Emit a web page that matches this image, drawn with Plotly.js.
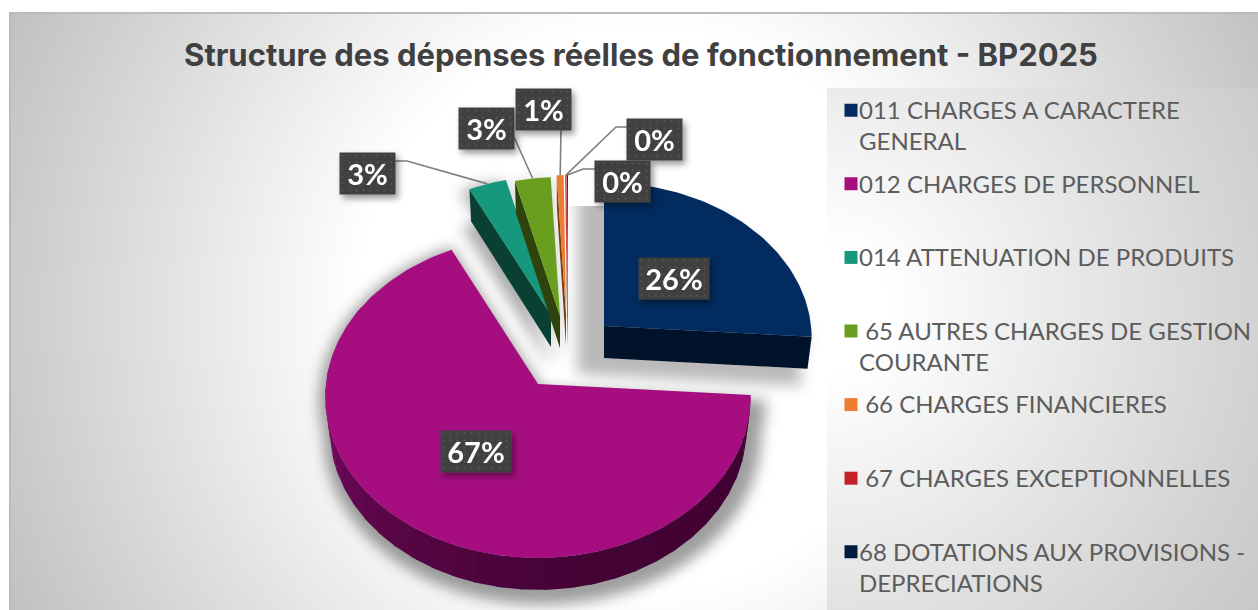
<!DOCTYPE html>
<html><head><meta charset="utf-8">
<script src="https://cdn.plot.ly/plotly-3.0.1.min.js"></script>
<style>
html,body{margin:0;padding:0;background:#fff;overflow:hidden}
#frame{position:absolute;left:9px;top:12px;width:1249px;height:598px;border-top:2px solid #bbb;border-left:2px solid #bbb;box-sizing:border-box;
 background:radial-gradient(circle at 629px 296px,#fff 0px,#fff 280px,#c0c0c0 700px)}
#panel{position:absolute;left:827px;top:88px;width:431px;height:522px;
 background:radial-gradient(circle at 0px 222px,#fff 60px,#d2d2d2 430px,#c8c8c8 520px)}
#chart{position:absolute;left:0;top:0;width:1258px;height:610px}
</style></head>
<body>
<div id="frame"></div><div id="panel"></div><div id="chart"></div>
<script>
const categories=["011 CHARGES A CARACTERE<br>GENERAL","012 CHARGES DE PERSONNEL<br> ","014 ATTENUATION DE PRODUITS<br> ","\u00a065 AUTRES CHARGES DE GESTION<br>COURANTE","\u00a066 CHARGES FINANCIERES<br> ","\u00a067 CHARGES EXCEPTIONNELLES<br> ","68 DOTATIONS AUX PROVISIONS -<br>DEPRECIATIONS"];
const values=[26.1,66.7,3.3,3.1,0.6,0.12,0.08];
const topColors=["#022c60","#a60e80","#16987c","#6a9e1f","#ed7d31","#c52026","#011c3e"];
const sideColors=["#00132b","#42032f","#0a4033","#2f430c","#7a4010","#6a1010","#000f20"];
// explode layout: where each slice's tip lands, and its ellipse radii
const apexX=[604,538,551,560,566,567.5,568];
const apexY=[326,384,315,316,314,314,314];
const radX=[207,212,200,200,200,200,200];
const radY=[155,160,150,150,150,150,150];
const persp=0.08, depth=32, shrink=0.98;
// label layout
const boxX=[674,476,367,486,543,654,622];
const boxY=[278.5,451,173,128,109.5,139,181];
const leadFrom=[null,null,[[395,161],[407,161]],[[514,137]],[[561,130]],[[627,127],[616,127]],[[595,169],[583,169]]];
const dataLabels=[0,1,2,3,4,5,6];

const total=values.reduce((a,b)=>a+b,0);
let cum=0;
const slices=values.map((v,i)=>{const a0=cum/total*360;cum+=v;const a1=cum/total*360;return {i,a0,a1,mid:(a0+a1)/2};});
function pt(i,r,deg,low){
  const t=deg*Math.PI/180, w=1+persp*r*Math.cos(t), z=low?shrink:1;
  return [apexX[i]+radX[i]*z*r*Math.sin(t)/w, apexY[i]-radY[i]*r*Math.cos(t)/w+(low?depth:0)];
}
function arc(i,a0,a1,low){const n=Math.max(2,Math.ceil(Math.abs(a1-a0)/1.5));const o=[];for(let k=0;k<=n;k++)o.push(pt(i,1,a0+(a1-a0)*k/n,low));return o;}
function poly(points,fill,name,extra){return Object.assign({type:'scatter',mode:'lines',x:points.map(p=>p?p[0]:null),y:points.map(p=>p?p[1]:null),fill:'toself',fillcolor:fill,line:{width:0,color:fill},showlegend:false,hoverinfo:'skip',name:name||''},extra||{});}
function lerp(c1,c2,f){const p=c=>[1,3,5].map(j=>parseInt(c.substr(j,2),16));const a=p(c1),b=p(c2);return 'rgb('+a.map((v,j)=>Math.round(v+(b[j]-v)*f)).join(',')+')';}

const traces=[];const shadowIdx=[];
// the slice's silhouette: its top face and its bottom face, together
function silhouette(i){const s=slices[i];
  const top=[pt(i,0,0,false),...arc(i,s.a0,s.a1,false),pt(i,0,0,false)];
  const low=[pt(i,0,0,true),...arc(i,s.a0,s.a1,true),pt(i,0,0,true)];
  return [top,low];}
function shifted(i,sc,dx,dy){const parts=silhouette(i);const all=parts[0].concat(parts[1]);
  const cx=all.reduce((a,p)=>a+p[0],0)/all.length,cy=all.reduce((a,p)=>a+p[1],0)/all.length;
  const m=p=>[cx+(p[0]-cx)*sc+dx,cy+(p[1]-cy)*sc+dy];
  return [...parts[0].map(m),null,...parts[1].map(m)];}
// soft shadows
[[0,1.1,-14,6,'rgba(0,0,0,0.27)','navy'],[1,1.05,2,8,'rgba(0,0,0,0.38)','soft'],[2,1.12,-6,6,'rgba(0,0,0,0.32)','soft'],[3,1.08,0,6,'rgba(0,0,0,0.2)','soft']].forEach(q=>{
  traces.push(poly(shifted(q[0],q[1],q[2],q[3]),q[4]));shadowIdx.push([traces.length-1,q[5]]);
});
// navy
(function(){const i=0,s=slices[0];
 traces.push(poly([pt(i,0,0,false),pt(i,1,s.a1,false),pt(i,1,s.a1,true),pt(i,0,0,true)],sideColors[0]));
 traces.push(poly([pt(i,0,0,false),...arc(i,s.a0,s.a1,false),pt(i,0,0,false)],topColors[0],"011"));
})();
// personnel: curved wall with shading
(function(){const i=1,s=slices[1];const stops=[[s.a0,"#3f0232"],[170,"#440335"],[225,"#5a0648"],[275,"#7c0b6c"],[300,"#7c0b6c"]];
 const step=6;for(let a=s.a0;a<300;a+=step){const b=Math.min(a+step+0.6,300);const mid=a+step/2;let c=stops[stops.length-1][1];
  for(let j=0;j<stops.length-1;j++){if(mid>=stops[j][0]&&mid<=stops[j+1][0]){c=lerp(stops[j][1],stops[j+1][1],(mid-stops[j][0])/(stops[j+1][0]-stops[j][0]));break;}}
  traces.push(poly([...arc(i,a,b,false),...arc(i,b,a,true)],c));}
 traces.push(poly([pt(i,0,0,false),...arc(i,s.a0,s.a1,false),pt(i,0,0,false)],topColors[1],"012"));
})();
// small slices
[2,3,4,5,6].forEach(i=>{const s=slices[i];
 traces.push(poly([pt(i,0,0,false),pt(i,1,s.a0,false),pt(i,1,s.a0,true),pt(i,0,0,true)],sideColors[i]));
 traces.push(poly([pt(i,0,0,false),...arc(i,s.a0,s.a1,false),pt(i,0,0,false)],topColors[i]));
});
// leader lines
leadFrom.forEach((l,i)=>{if(!l)return;const s=slices[i];const end=pt(i,1,s.mid,false);
 traces.push({type:'scatter',mode:'lines',x:[...l.map(p=>p[0]),end[0]],y:[...l.map(p=>p[1]),end[1]],line:{color:'#7f7f7f',width:1.6},showlegend:false,hoverinfo:'skip'});});
// legend entries
categories.forEach((c,i)=>traces.push({type:'scatter',mode:'markers',x:[null],y:[null],name:c,legendgroup:'g'+i,marker:{symbol:'square',size:13,color:topColors[i]},hoverinfo:'skip'}));

const annotations=dataLabels.map(i=>({x:boxX[i],y:boxY[i],xref:'x',yref:'y',text:Math.round(values[i]/total*100)+'%',showarrow:false,
  width:i<2?70:55,height:41,bgcolor:'#404040',borderpad:0,font:{family:'Lato',size:29,color:'#fff',weight:700},align:'center',valign:'middle'}));

const layout={width:1258,height:610,margin:{l:0,r:0,t:0,b:0,autoexpand:false},paper_bgcolor:'rgba(0,0,0,0)',plot_bgcolor:'rgba(0,0,0,0)',
 title:{text:'Structure des dépenses réelles de fonctionnement - BP2025',x:641/1258,xanchor:'center',y:1-55/610,yanchor:'middle',font:{family:'Inter',size:31,color:'#404040',weight:700}},
 xaxis:{range:[0,1258],visible:false,fixedrange:true},yaxis:{range:[610,0],visible:false,fixedrange:true},
 annotations,
 legend:{x:819/1258,y:1-87.5/610,xanchor:'left',yanchor:'top',bgcolor:'rgba(0,0,0,0)',font:{family:'Lato',size:24,color:'#5c5c5c'},tracegroupgap:8.2,itemwidth:30,itemclick:false,itemdoubleclick:false}};

Plotly.newPlot('chart',traces,layout,{displayModeBar:false}).then(gd=>{
 const svg=gd.querySelector('svg.main-svg');const NS='http://www.w3.org/2000/svg';
 const defs=document.createElementNS(NS,'defs');
 defs.innerHTML='<filter id="softb" filterUnits="userSpaceOnUse" x="0" y="0" width="1258" height="610"><feGaussianBlur stdDeviation="7"/></filter>'+
 '<filter id="navyb" filterUnits="userSpaceOnUse" x="0" y="206" width="1258" height="404"><feGaussianBlur stdDeviation="7"/></filter>'+
 '<filter id="boxs" x="-20%" y="-20%" width="150%" height="160%"><feDropShadow dx="3" dy="4" stdDeviation="3" flood-color="#000" flood-opacity="0.4"/></filter>'+
 '<pattern id="dots" patternUnits="userSpaceOnUse" width="7" height="7"><rect width="7" height="7" fill="#404040"/><circle cx="3.5" cy="3.5" r="1" fill="#565656"/></pattern>';
 svg.insertBefore(defs,svg.firstChild);
 const tr=gd.querySelectorAll('.scatterlayer .trace');
 shadowIdx.forEach(q=>{tr[q[0]].setAttribute('filter',q[1]==='navy'?'url(#navyb)':'url(#softb)');});
 gd.querySelectorAll('.annotation').forEach(a=>{a.setAttribute('filter','url(#boxs)');const r=a.querySelector('rect.bg');if(r)r.style.fill='url(#dots)';});
 gd.querySelectorAll('.legend .traces').forEach(t=>{const s=t.querySelector('.legendsymbols');if(s){s.setAttribute('transform','translate(12,-15)');}});
});
</script>
</body></html>
